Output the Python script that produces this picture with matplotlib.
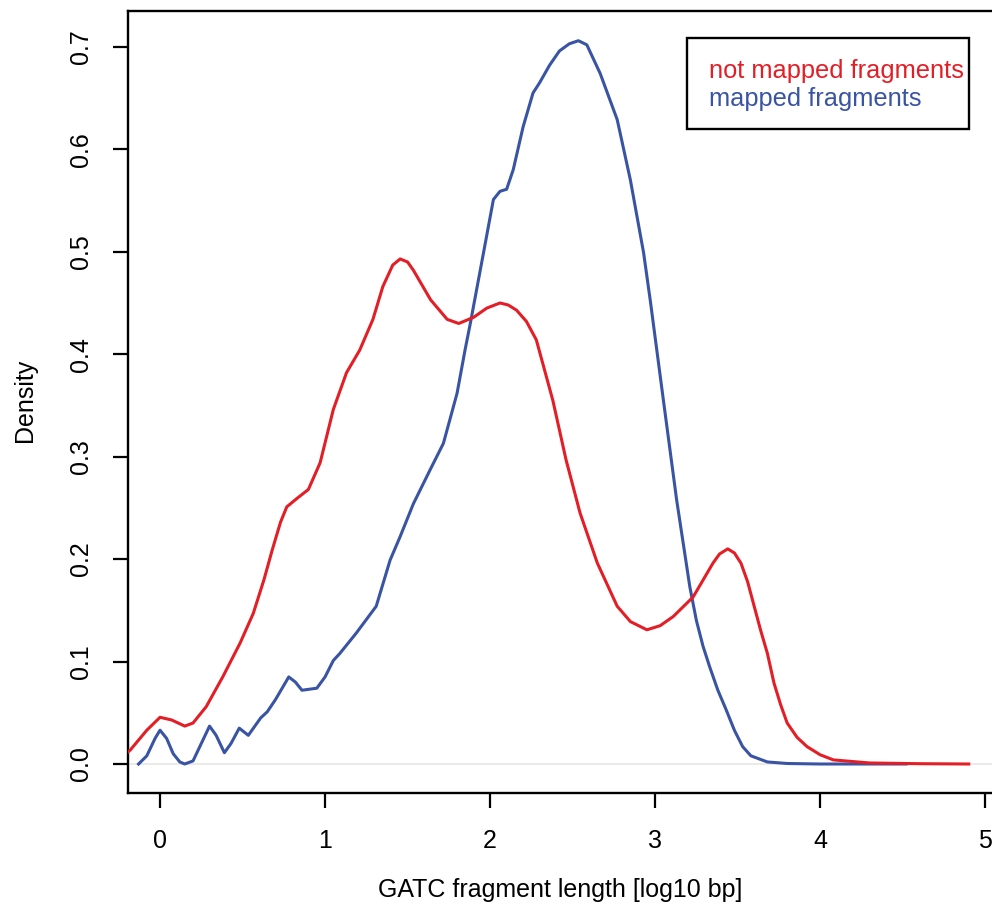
import matplotlib.pyplot as plt
from matplotlib.patches import Rectangle

plt.rcParams['font.family'] = ['Liberation Sans', 'DejaVu Sans']

# density of log10 fragment length
notmapped_x = [-0.25, -0.18, -0.08, 0.0, 0.07, 0.15, 0.2, 0.28, 0.38, 0.485, 0.565, 0.63, 0.68,
               0.73, 0.768, 0.828, 0.899, 0.97, 1.05, 1.13, 1.21, 1.29, 1.35, 1.41, 1.455, 1.50, 1.535,
               1.64, 1.74, 1.81, 1.90, 1.98, 2.06, 2.11, 2.16, 2.22, 2.28, 2.38, 2.46, 2.545, 2.65,
               2.77, 2.85, 2.95, 3.03, 3.11, 3.23, 3.35, 3.39, 3.44, 3.48, 3.52, 3.56, 3.60, 3.64,
               3.68, 3.72, 3.76, 3.80, 3.86, 3.92, 4.0, 4.08, 4.3, 4.6, 4.9]
notmapped_y = [0.004, 0.0137, 0.033, 0.0456, 0.043, 0.037, 0.040, 0.056, 0.085, 0.118, 0.147, 0.18, 0.209,
               0.236, 0.251, 0.259, 0.268, 0.294, 0.346, 0.382, 0.404, 0.434, 0.466, 0.487, 0.493, 0.490, 0.482,
               0.453, 0.434, 0.430, 0.436, 0.445, 0.450, 0.448, 0.443, 0.432, 0.414, 0.355, 0.297, 0.245, 0.196,
               0.154, 0.139, 0.131, 0.135, 0.144, 0.163, 0.196, 0.205, 0.210, 0.206, 0.196, 0.178, 0.154, 0.130,
               0.108, 0.079, 0.058, 0.040, 0.026, 0.017, 0.009, 0.004, 0.001, 0.0003, 0.0]

mapped_x = [-0.13, -0.08, -0.03, 0.0, 0.04, 0.08, 0.12, 0.15, 0.2, 0.25, 0.30, 0.34, 0.39, 0.43, 0.48,
            0.535, 0.61, 0.65, 0.70, 0.78, 0.82, 0.86, 0.95, 1.0, 1.05, 1.09, 1.19, 1.31, 1.394, 1.455,
            1.535, 1.636, 1.717, 1.80, 1.848, 1.88, 1.96, 2.02, 2.06, 2.10, 2.14, 2.20, 2.26, 2.30, 2.36,
            2.42, 2.48, 2.535, 2.586, 2.667, 2.77, 2.85, 2.93, 2.97, 3.01, 3.05, 3.13, 3.21, 3.25, 3.29,
            3.33, 3.38, 3.43, 3.48, 3.53, 3.58, 3.68, 3.8, 4.0, 4.52]
mapped_y = [0.0, 0.008, 0.025, 0.033, 0.025, 0.01, 0.002, 0.0, 0.003, 0.02, 0.037, 0.028, 0.011, 0.02, 0.035,
            0.028, 0.045, 0.051, 0.063, 0.085, 0.080, 0.072, 0.074, 0.085, 0.101, 0.108, 0.128, 0.154, 0.199, 0.222,
            0.254, 0.287, 0.313, 0.362, 0.404, 0.430, 0.499, 0.551, 0.559, 0.561, 0.580, 0.622, 0.655, 0.665, 0.682,
            0.696, 0.703, 0.706, 0.702, 0.674, 0.629, 0.570, 0.499, 0.453, 0.404, 0.355, 0.258, 0.173, 0.140, 0.115,
            0.095, 0.072, 0.053, 0.033, 0.017, 0.008, 0.002, 0.0005, 0.0, 0.0]

xticks = [0, 1, 2, 3, 4, 5]
yticks = [0.0, 0.1, 0.2, 0.3, 0.4, 0.5, 0.6, 0.7]
labels = ['not mapped fragments', 'mapped fragments']
red = '#e31e26'
blue = '#3a54a4'

W, H = 992, 918
fig = plt.figure(figsize=(W / 100, H / 100), dpi=100)
ax = fig.add_axes([128 / W, (H - 793) / H, (1010 - 128) / W, (793 - 11) / H])

ax.axhline(0, color='#e6e6e6', lw=1.2, zorder=1)
ax.plot(notmapped_x, notmapped_y, color=red, lw=2.2, zorder=3, solid_joinstyle='round')
ax.plot(mapped_x, mapped_y, color=blue, lw=2.2, zorder=2, solid_joinstyle='round')

ax.set_xlim(-0.194, 5.15)
ax.set_ylim(-0.0283, 0.735)
ax.set_xticks(xticks)
ax.set_yticks(yticks)
ax.set_xticklabels([str(t) for t in xticks])
ax.set_yticklabels(['%.1f' % t for t in yticks], rotation=90, va='center')
ax.tick_params(direction='out', length=11, width=1.6, labelsize=18, pad=15)
ax.tick_params(axis='y', pad=14)
for s in ['left', 'top', 'bottom']:
    ax.spines[s].set_linewidth(1.7)
ax.spines['right'].set_visible(False)

fig.text(25 / W, 1 - 400 / H, 'Density', rotation=90, ha='center', va='center', fontsize=18)
fig.text(560 / W, 1 - 890 / H, 'GATC fragment length [log10 bp]', ha='center', va='center', fontsize=18)

# legend box like R's legend()
fig.patches.append(Rectangle((687 / W, 1 - 129 / H), (969 - 687) / W, (129 - 38) / H,
                             transform=fig.transFigure, fill=False, edgecolor='black', lw=1.7))
fig.text(709 / W, 1 - 78 / H, labels[0], color=red, fontsize=18.3, va='baseline')
fig.text(709 / W, 1 - 106 / H, labels[1], color=blue, fontsize=18.3, va='baseline')

fig.savefig('out.png', dpi=100)
